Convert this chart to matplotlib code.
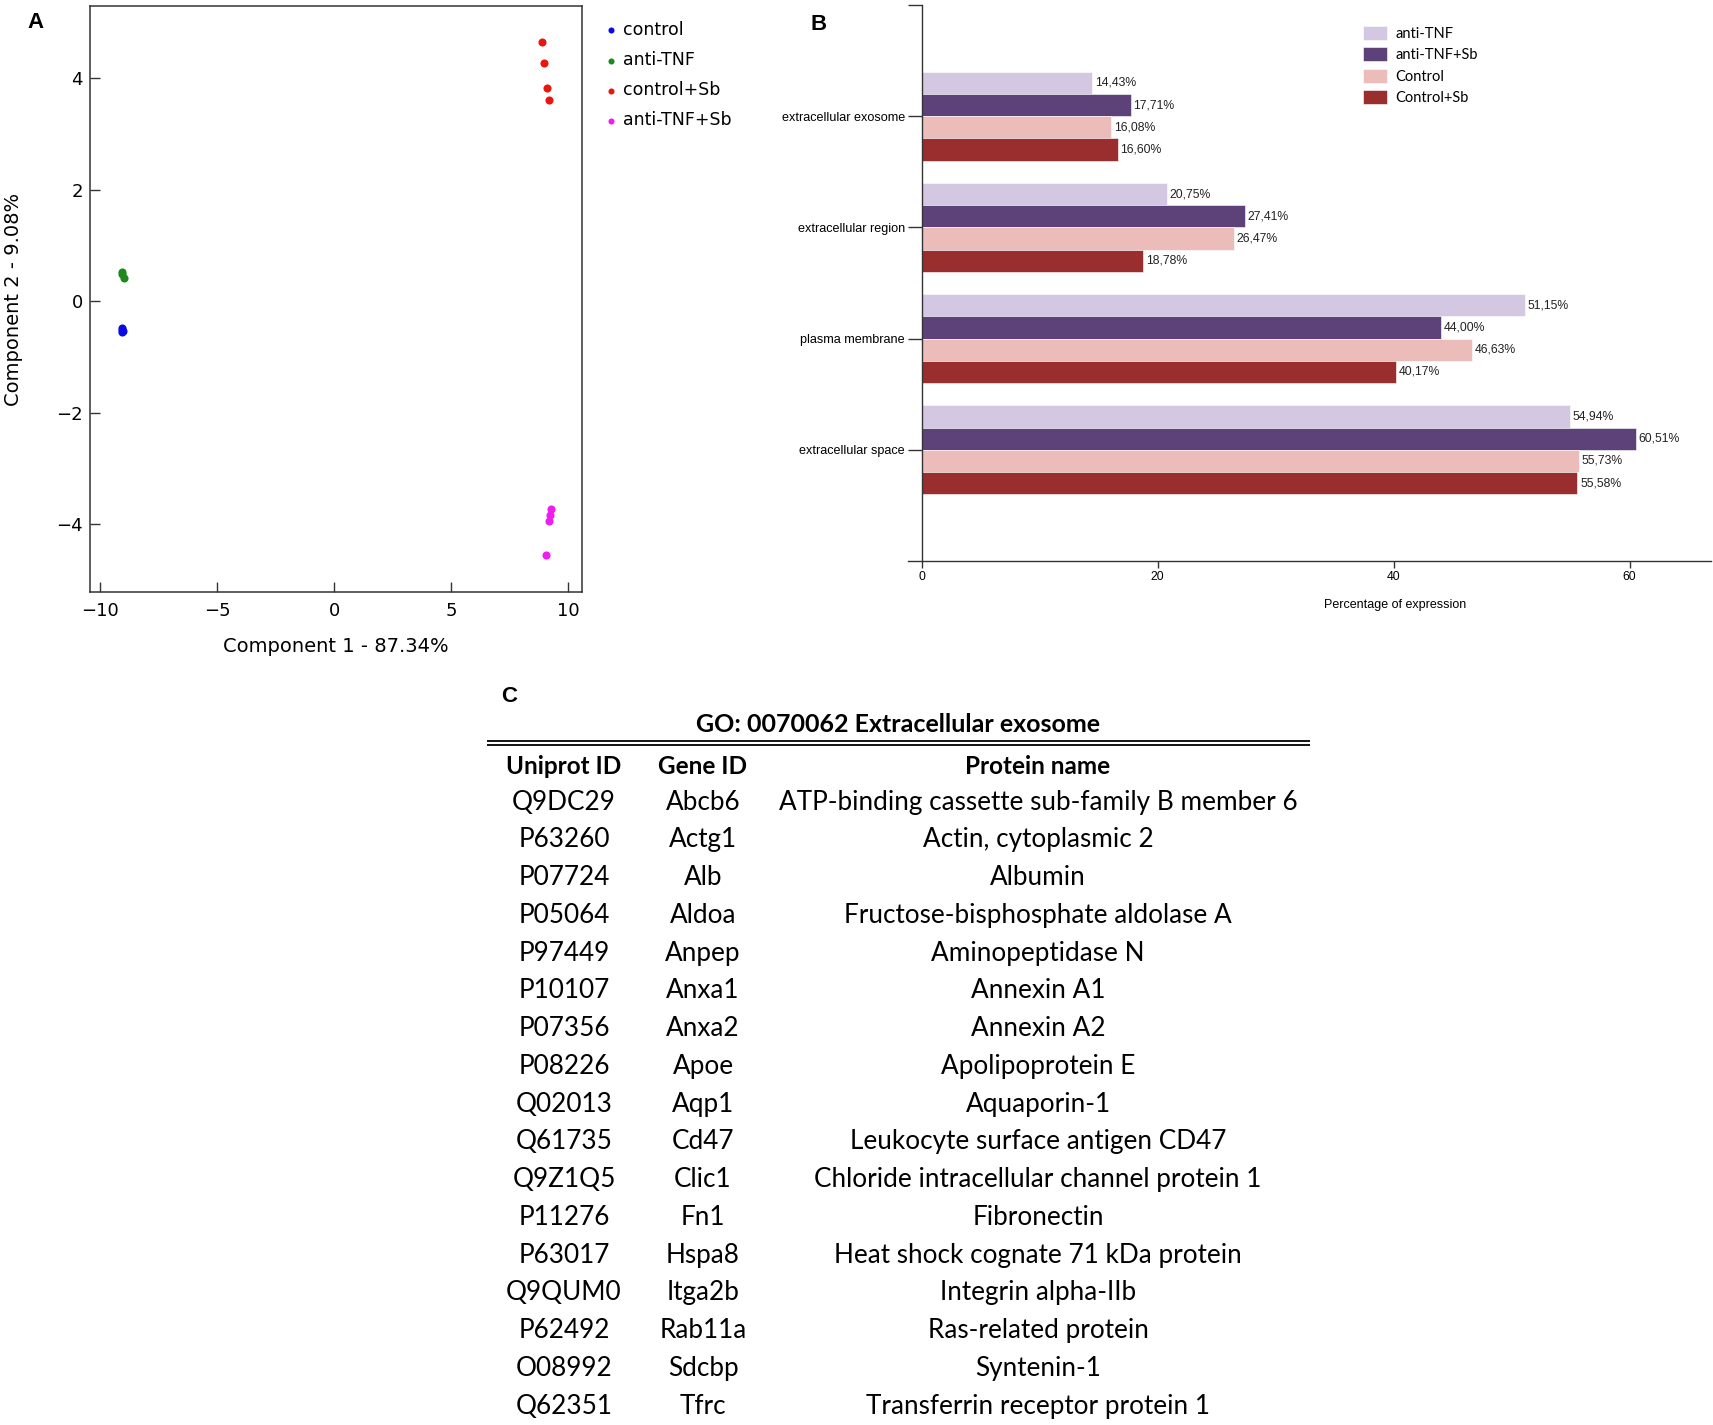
import matplotlib
matplotlib.use('Agg')
import matplotlib.pyplot as plt
import numpy as np

W, H = 1713, 1425

# ---- panel A: PCA scores ----
pca_groups = ['control', 'anti-TNF', 'control+Sb', 'anti-TNF+Sb']
pca_colors = ['#0a0ae6', '#1b8a1b', '#e8160f', '#f01cf0']
pca_x = [
    [-9.05, -9.05, -9.04, -9.05],
    [-9.07, -9.05, -8.97],
    [8.88, 8.97, 9.12, 9.17],
    [9.28, 9.23, 9.19, 9.05],
]
pca_y = [
    [-0.48, -0.51, -0.53, -0.55],
    [0.53, 0.49, 0.41],
    [4.66, 4.27, 3.83, 3.61],
    [-3.73, -3.84, -3.95, -4.56],
]

# ---- panel B: GO cellular component ----
go_terms = ['extracellular space', 'plasma membrane', 'extracellular region', 'extracellular exosome']
bar_series = ['anti-TNF', 'anti-TNF+Sb', 'Control', 'Control+Sb']
bar_colors = ['#d3c7e1', '#5d4279', '#ecbcbb', '#9a2e2e']
bar_values = [
    [54.94, 51.15, 20.75, 14.43],
    [60.51, 44.00, 27.41, 17.71],
    [55.73, 46.63, 26.47, 16.08],
    [55.58, 40.17, 18.78, 16.60],
]

# ---- panel C: table ----
table_title = 'GO: 0070062 Extracellular exosome'
table_header = ['Uniprot ID', 'Gene ID', 'Protein name']
uniprot_ids = ['Q9DC29', 'P63260', 'P07724', 'P05064', 'P97449', 'P10107', 'P07356',
               'P08226', 'Q02013', 'Q61735', 'Q9Z1Q5', 'P11276', 'P63017', 'Q9QUM0',
               'P62492', 'O08992', 'Q62351']
gene_ids = ['Abcb6', 'Actg1', 'Alb', 'Aldoa', 'Anpep', 'Anxa1', 'Anxa2', 'Apoe', 'Aqp1',
            'Cd47', 'Clic1', 'Fn1', 'Hspa8', 'Itga2b', 'Rab11a', 'Sdcbp', 'Tfrc']
protein_names = ['ATP-binding cassette sub-family B member 6', 'Actin, cytoplasmic 2',
                 'Albumin', 'Fructose-bisphosphate aldolase A', 'Aminopeptidase N',
                 'Annexin A1', 'Annexin A2', 'Apolipoprotein E', 'Aquaporin-1',
                 'Leukocyte surface antigen CD47', 'Chloride intracellular channel protein 1',
                 'Fibronectin', 'Heat shock cognate 71 kDa protein', 'Integrin alpha-IIb',
                 'Ras-related protein', 'Syntenin-1', 'Transferrin receptor protein 1']

fig = plt.figure(figsize=(W / 100, H / 100), dpi=100)

def fbox(x0, y0, x1, y1):
    # pixel box (top-left origin) -> figure fraction rect
    return [x0 / W, 1 - y1 / H, (x1 - x0) / W, (y1 - y0) / H]

arial = ['Liberation Sans', 'DejaVu Sans']

# ================= A =================
ax_a = fig.add_axes(fbox(90, 6, 582, 592))
for name, col, xs, ys in zip(pca_groups, pca_colors, pca_x, pca_y):
    ax_a.scatter(xs, ys, s=34, color=col, label=name, linewidths=0, zorder=3)
ax_a.set_xlim(-10.43, 10.6)
ax_a.set_ylim(-5.22, 5.30)
ax_a.set_xticks([-10, -5, 0, 5, 10])
ax_a.set_yticks([-4, -2, 0, 2, 4])
ax_a.tick_params(direction='in', length=7, width=1.0, labelsize=13, color='#333333')
ax_a.tick_params(axis='x', pad=7)
ax_a.tick_params(axis='y', pad=5)
for s in ax_a.spines.values():
    s.set_color('#333333')
    s.set_linewidth(1.1)
ax_a.set_xlabel('Component 1 - 87.34%', fontsize=14)
ax_a.xaxis.set_label_coords(0.5, -0.077)
ax_a.set_ylabel('Component 2 - 9.08%', fontsize=14)
ax_a.yaxis.set_label_coords(-0.136, 0.5)
ax_a.legend(loc='upper left', bbox_to_anchor=(606 / W, 1 - 21 / H),
            bbox_transform=fig.transFigure, frameon=False, fontsize=12.5,
            markerscale=0.75, handlelength=0.6, handletextpad=0.4,
            labelspacing=0.7, borderpad=0, borderaxespad=0)

# ================= B =================
ax_b = fig.add_axes(fbox(908, 5, 1711, 561))
ypos = np.arange(len(go_terms))
bar_h = 0.2
offsets = [0.3, 0.1, -0.1, -0.3]
for name, col, vals, off in zip(bar_series, bar_colors, bar_values, offsets):
    bars = ax_b.barh(ypos + off, vals, height=bar_h, color=col, label=name,
                     edgecolor='white', linewidth=0.4)
    for b, v in zip(bars, vals):
        ax_b.annotate(f'{v:.2f}'.replace('.', ',') + '%',
                      (b.get_width(), b.get_y() + b.get_height() / 2),
                      xytext=(2, 0), textcoords='offset points', va='center', ha='left',
                      fontsize=8.8, family=arial, color='#222222')
ax_b.set_xlim(-1.16, 66.9)
ax_b.set_ylim(-1, 4)
ax_b.spines['left'].set_position(('data', 0))
ax_b.spines['top'].set_visible(False)
ax_b.spines['right'].set_visible(False)
for s in ('left', 'bottom'):
    ax_b.spines[s].set_color('#333333')
    ax_b.spines[s].set_linewidth(1.0)
ax_b.set_yticks(ypos)
ax_b.set_yticklabels(go_terms, family=arial, fontsize=9.1)
ax_b.set_yticks([4], minor=True)
ax_b.set_xticks([0, 20, 40, 60])
ax_b.tick_params(axis='y', which='both', direction='out', length=10, width=1.0,
                 pad=2, color='#333333')
ax_b.tick_params(axis='x', direction='out', length=5, width=1.0, pad=2,
                 labelsize=8.8, color='#333333')
for t in ax_b.get_xticklabels():
    t.set_family(arial)
ax_b.set_xlabel('Percentage of expression', fontsize=9, family=arial)
ax_b.xaxis.set_label_coords(0.6065, -0.068)
ax_b.legend(loc='upper left', bbox_to_anchor=(1363 / W, 1 - 26 / H),
            bbox_transform=fig.transFigure, frameon=False,
            prop={'family': ['Lato', 'DejaVu Sans'], 'size': 10.5},
            handlelength=1.65, handleheight=1.08, handletextpad=0.55,
            labelspacing=0.45, borderpad=0, borderaxespad=0)

# ================= C =================
ax_c = fig.add_axes([0, 0, 1, 1], zorder=-1)
ax_c.set_xlim(0, W)
ax_c.set_ylim(H, 0)
ax_c.axis('off')
tfont = ['Lato', 'DejaVu Sans']
col_x = [564, 703, 1038]
ax_c.text(898, 724, table_title, ha='center', va='center', fontsize=18,
          fontweight='bold', family=tfont)
ax_c.hlines([740.5, 744.8], 487, 1310, color='black', linewidth=1.3)
for cx, h in zip(col_x, table_header):
    ax_c.text(cx, 766, h, ha='center', va='center', fontsize=17.5,
              fontweight='bold', family=tfont)
row_y0, row_h = 802, 37.76
for i, (u, g, p) in enumerate(zip(uniprot_ids, gene_ids, protein_names)):
    y = row_y0 + i * row_h
    for cx, s in zip(col_x, (u, g, p)):
        ax_c.text(cx, y, s, ha='center', va='center', fontsize=18.8, family=tfont)

# panel letters
for lx, ly, letter in [(36, 22, 'A'), (819, 24, 'B'), (509, 697, 'C')]:
    fig.text(lx / W, 1 - ly / H, letter, ha='center', va='center', fontsize=16,
             fontweight='bold', family=arial)

fig.savefig('out.png', dpi=100)
plt.close(fig)
print('saved: out.png')
